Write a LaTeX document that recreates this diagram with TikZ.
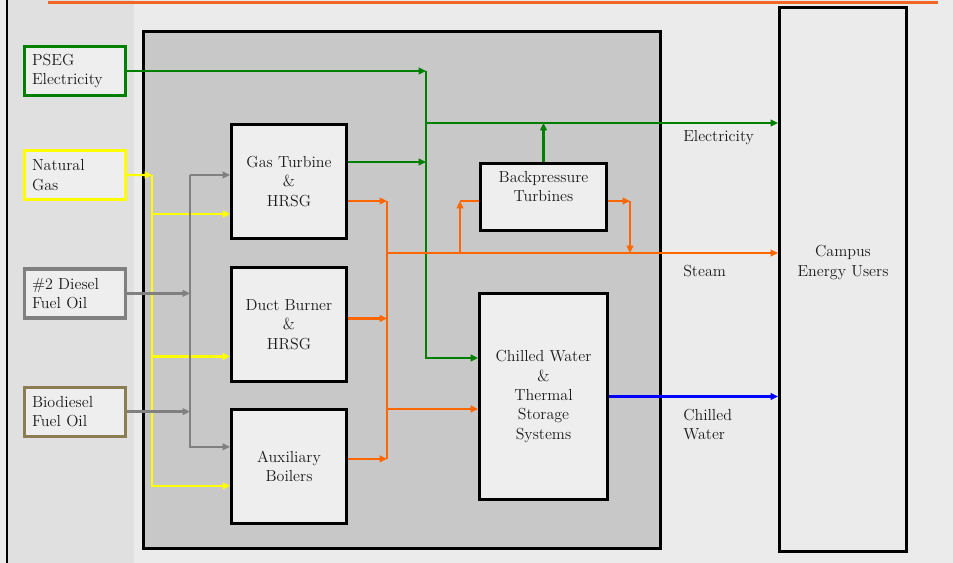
\documentclass[tikz,border=0pt]{standalone}
\usepackage{xcolor}
\usetikzlibrary{arrows.meta, positioning, calc}
\definecolor{cfondo}{HTML}{EBEBEB}
\definecolor{cfranja}{HTML}{E0E0E0}
\definecolor{cplanta}{HTML}{C8C8C8}
\definecolor{ccaja}{HTML}{EEEEEE}
\definecolor{cverde}{HTML}{008000}
\definecolor{camarillo}{HTML}{FFFF00}
\definecolor{cgris}{HTML}{808080}
\definecolor{coliva}{HTML}{8C7E52}
\definecolor{cnaranja}{HTML}{FF6600}
\definecolor{ctitulo}{HTML}{F26522}
\definecolor{cazul}{HTML}{0000FF}
\definecolor{ctexto}{HTML}{1A1A1A}
\tikzset{
  fuente/.style={rectangle, draw=#1, fill=ccaja, line width=2.4pt, text width=64.5pt,
                 inner xsep=5.5pt, minimum height=36.75pt, align=left},
  etapa/.style={rectangle, draw=black, fill=ccaja, line width=2pt, align=center,
                minimum width=86.5pt, minimum height=85.7pt},
  planta/.style={rectangle, draw=black, fill=cplanta, line width=2.3pt,
                 minimum width=387.8pt, minimum height=387.8pt},
  rotulo/.style={inner sep=0pt, align=left},
  flecha/.style={-{Triangle[length=5.5pt, width=5pt]}, line width=1.7pt, draw=#1},
  linea/.style={line width=1.7pt, draw=#1},
}

\begin{document}
\begin{tikzpicture}[x=0.75pt, y=-0.75pt, font=\fontsize{12pt}{14.6pt}\selectfont, text=ctexto]
        % fondo
        \fill[cfondo] (0,0) rectangle (953,563);
        \useasboundingbox (0,0) rectangle (953,563);
        \fill[cfranja] (8,0) rectangle (134,563);
        \draw[line width=1.6pt] (7,0) -- (7,563);
        \draw[ctitulo, line width=2.3pt] (48,2.5) -- (938,2.5);

        \node[planta] (planta) at (402,290) {};

        % fuentes
        \node[fuente=cverde] (pseg) at (75,71) {PSEG\\Electricity};
        \node[fuente=camarillo, below=39pt of pseg] (gasnat) {Natural\\Gas};
        \node[fuente=cgris, below=49.5pt of gasnat] (diesel) {\#2 Diesel\\Fuel Oil};
        \node[fuente=coliva, below=49.5pt of diesel] (biodiesel) {Biodiesel\\Fuel Oil};

        % unidades
        \node[etapa] (turbgas) at (289,181.5) {Gas Turbine\\\&\\HRSG};
        \node[etapa, below=19.5pt of turbgas] (quemador) {Duct Burner\\\&\\HRSG};
        \node[etapa, below=18.75pt of quemador] (caldera) {Auxiliary\\Boilers};
        \node[etapa, minimum width=94.7pt, minimum height=50.5pt, text depth=16pt] (contrapresion) at (543.5,197) {Backpressure\\Turbines};
        \node[etapa, minimum width=96.2pt, minimum height=154.7pt, below=45pt of contrapresion] (agua) {Chilled Water\\\&\\Thermal\\Storage\\Systems};
        \node[etapa, fill=cfondo, minimum width=95.5pt, minimum height=408pt, text depth=28pt] (campus) at (843,279.5) {Campus\\Energy Users};

        % rotulos
        \node[rotulo, anchor=west] (relec) at (683,138) {Electricity};
        \node[rotulo, anchor=west] (rvapor) at (683,271) {Steam};
        \node[rotulo, anchor=west] (ragua) at (683,424.5) {Chilled\\Water};

        % barras
        \coordinate (bgas) at (152,175);
        \coordinate (boil) at (190,175);
        \coordinate (belec) at (426,71);
        \coordinate (selec) at (426,123);
        \coordinate (bvapor) at (387,201);
        \coordinate (svapor) at (387,253);
        \coordinate (rama) at (460,253);
        \coordinate (tgin) at ($(turbgas.west)+(0,32.5)$);
        \coordinate (qin) at ($(quemador.west)+(0,32)$);
        \coordinate (tgel) at ($(turbgas.east)+(0,-19.5)$);
        \coordinate (qvout) at ($(quemador.east)+(0,-6)$);
        \coordinate (cvout) at ($(caldera.east)+(0,-7.5)$);
        \coordinate (bpin) at ($(contrapresion.west)+(0,4)$);
        \coordinate (bpout) at ($(contrapresion.east)+(0,4)$);
        \coordinate (agin) at ($(agua.west)+(0,12.5)$);

        % gas natural
        \draw[flecha=camarillo] (gasnat) -- (bgas);
        \draw[flecha=camarillo] (bgas) |- ($(caldera.west)+(0,19.5)$);
        \draw[flecha=camarillo] (bgas |- tgin) -- (tgin);
        \draw[flecha=camarillo] (bgas |- qin) -- (qin);

        % combustibles
        \draw[flecha=cgris] (diesel) -- (diesel -| boil);
        \draw[flecha=cgris] (biodiesel) -- (biodiesel -| boil);
        \draw[flecha=cgris] (boil) -- (boil -| turbgas.west);
        \draw[flecha=cgris] (boil) |- ($(caldera.west)+(0,-19.5)$);

        % electricidad
        \draw[flecha=cverde] (pseg) -- (belec);
        \draw[flecha=cverde] (tgel) -- (tgel -| belec);
        \draw[flecha=cverde] (belec) |- ($(agua.west)+(0,-38.5)$);
        \draw[flecha=cverde] (selec) -- (selec -| campus.west);
        \draw[flecha=cverde] (contrapresion) -- (contrapresion |- selec);

        % vapor
        \draw[flecha=cnaranja] ($(turbgas.east)+(0,19.5)$) -- (bvapor);
        \draw[flecha=cnaranja] (qvout) -- (qvout -| bvapor);
        \draw[flecha=cnaranja] (cvout) -- (cvout -| bvapor);
        \draw[linea=cnaranja] (bvapor) -- (bvapor |- cvout);
        \draw[flecha=cnaranja] (svapor) -- (svapor -| campus.west);
        \draw[flecha=cnaranja] (rama) -- (rama |- bpin);
        \draw[linea=cnaranja] (rama |- bpin) -- (bpin);
        \draw[flecha=cnaranja] (bpout) -- ++(22,0) coordinate (bpcodo);
        \draw[flecha=cnaranja] (bpcodo) -- (bpcodo |- svapor);
        \draw[flecha=cnaranja] (bvapor |- agin) -- (agin);

        % agua helada
        \draw[flecha=cazul] (agua) -- (agua -| campus.west);
    \end{tikzpicture}
\end{document}
